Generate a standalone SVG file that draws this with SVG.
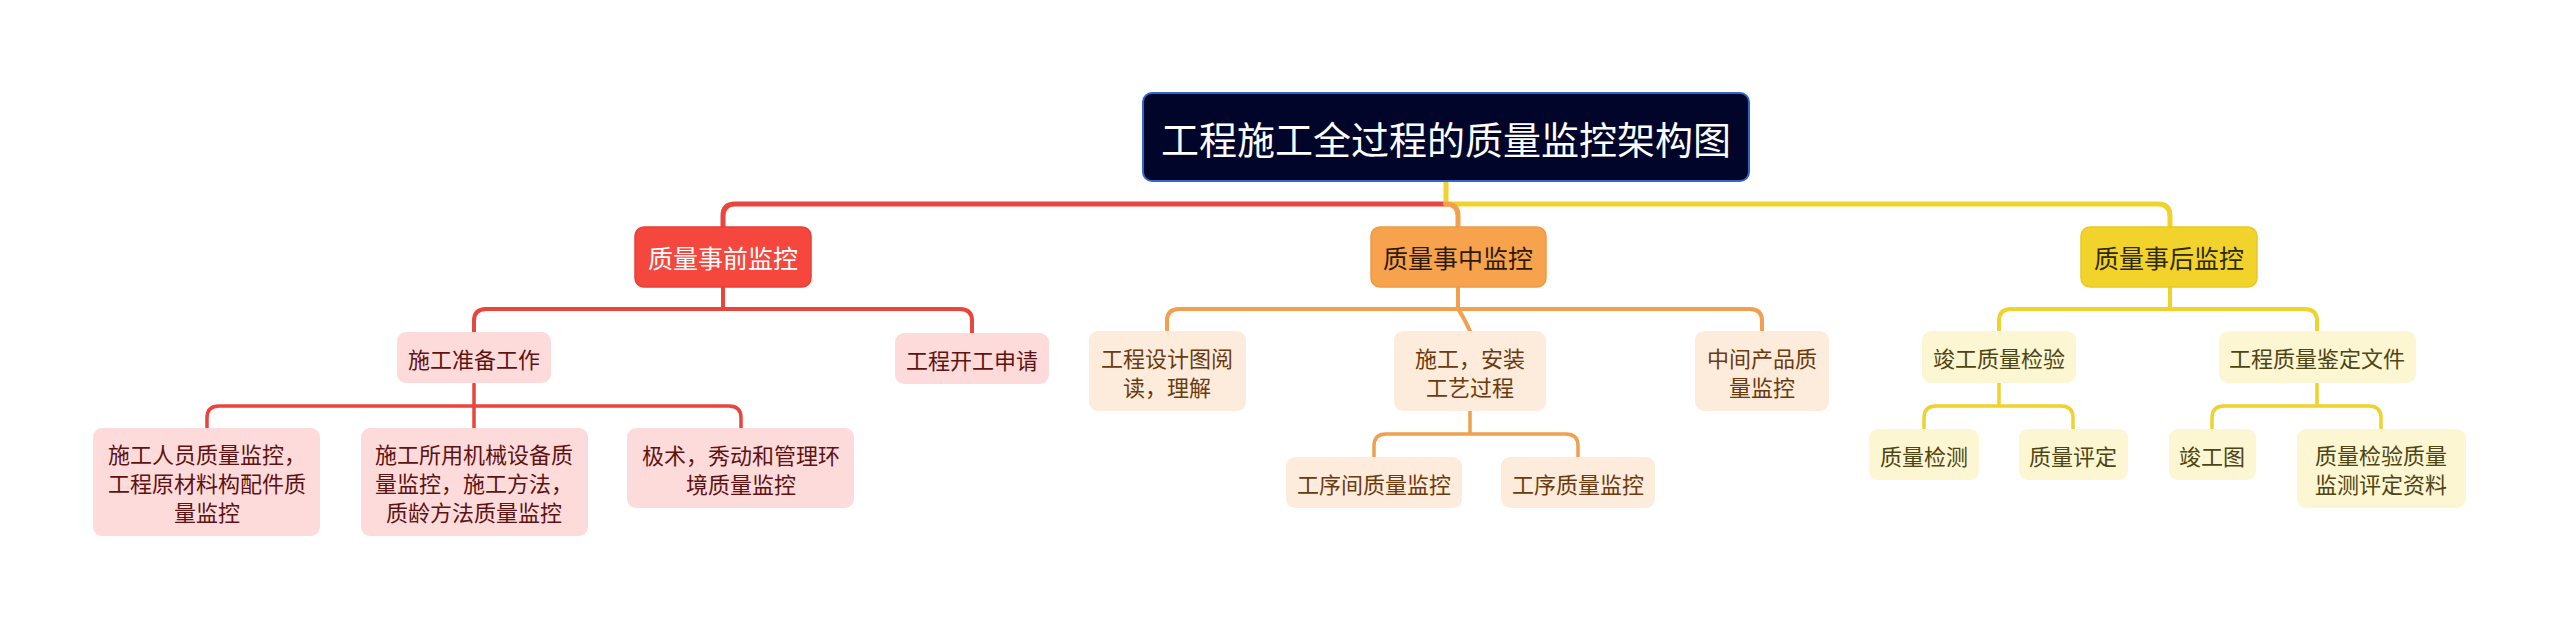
<svg xmlns="http://www.w3.org/2000/svg" width="2560" height="630" viewBox="0 0 2560 630">
<style>
text{font-family:"Noto Sans CJK SC","Noto Sans",sans-serif;text-anchor:middle;dominant-baseline:central}
.c{fill:none;stroke-linecap:round;stroke-linejoin:round}
.cr{stroke:#e8453c}.co{stroke:#f0a04f}.cy{stroke:#f0d22e}
.w1{stroke-width:5}.w2{stroke-width:4}.w3{stroke-width:3.5}
.root rect{fill:#02052a;stroke:#2f66c8;stroke-width:2}
.root text{fill:#ffffff;font-size:38px}
.l1r rect{fill:#f5473d;stroke:#e83f35;stroke-width:1.5}
.l1r text{fill:#ffffff;font-size:25px}
.l1o rect{fill:#f7a24c;stroke:#ee9a45;stroke-width:1.5}
.l1o text{fill:#2e1a08;font-size:25px}
.l1y rect{fill:#f2d32b;stroke:#e8c925;stroke-width:1.5}
.l1y text{fill:#2e2a08;font-size:25px}
.sr rect{fill:#fddbdb}
.sr text{fill:#5e1212;font-size:22px}
.so rect{fill:#fdecdb}
.so text{fill:#6b3a0e;font-size:22px}
.sy rect{fill:#fdf6d2}
.sy text{fill:#4e4514;font-size:22px}
</style>
<rect width="2560" height="630" fill="#ffffff"/>
<g id="connectors">
<path class="c cr w1" d="M1446,204 L735,204 Q723,204 723,216 L723,227"/>
<path class="c cy w1" d="M1446,182 L1446,204 L2158,204 Q2170,204 2170,216 L2170,227"/>
<path class="c co w1" d="M1446,204 Q1458,204 1458,216 L1458,227"/>
<path class="c cr w2" d="M723,287 L723,309 M486,309 L960,309 M474,333 L474,321 Q474,309 486,309 M972,333 L972,321 Q972,309 960,309"/>
<path class="c cr w3" d="M474,384 L474,428 M219,406 L729,406 M207,428 L207,418 Q207,406 219,406 M741,428 L741,418 Q741,406 729,406"/>
<path class="c co w2" d="M1458,287 L1458,309 M1179,309 L1750,309 M1167,331 L1167,321 Q1167,309 1179,309 M1762,331 L1762,321 Q1762,309 1750,309 M1458,309 Q1462,314 1470,331"/>
<path class="c co w3" d="M1470,411 L1470,434 M1386,434 L1566,434 M1374,457 L1374,446 Q1374,434 1386,434 M1578,457 L1578,446 Q1578,434 1566,434"/>
<path class="c cy w2" d="M2170,287 L2170,309 M2011,309 L2305,309 M1999,331 L1999,321 Q1999,309 2011,309 M2317,331 L2317,321 Q2317,309 2305,309"/>
<path class="c cy w3" d="M1999,383 L1999,406 M1936,406 L2061,406 M1924,429 L1924,418 Q1924,406 1936,406 M2073,429 L2073,418 Q2073,406 2061,406"/>
<path class="c cy w3" d="M2317,383 L2317,406 M2224,406 L2369,406 M2212,429 L2212,418 Q2212,406 2224,406 M2381,429 L2381,418 Q2381,406 2369,406"/>
</g>
<g id="root" class="root"><rect x="1143" y="93" width="606" height="88" rx="9"/><text x="1446" y="137">工程施工全过程的质量监控架构图</text></g>
<g id="pre" class="l1r"><rect x="635" y="227" width="176" height="60" rx="9"/><text x="723" y="257">质量事前监控</text></g>
<g id="mid" class="l1o"><rect x="1371" y="227" width="175" height="60" rx="9"/><text x="1458" y="257">质量事中监控</text></g>
<g id="post" class="l1y"><rect x="2081" y="227" width="176" height="60" rx="9"/><text x="2169" y="257">质量事后监控</text></g>
<g id="prep" class="sr"><rect x="397" y="332" width="154" height="51" rx="9"/><text x="474" y="357.5">施工准备工作</text></g>
<g id="start" class="sr"><rect x="895" y="333" width="154" height="51" rx="9"/><text x="972" y="358.5">工程开工申请</text></g>
<g id="people" class="sr"><rect x="93" y="428" width="227" height="108" rx="9"/><text x="207" y="453">施工人员质量监控，</text><text x="207" y="482">工程原材料构配件质</text><text x="207" y="511">量监控</text></g>
<g id="machine" class="sr"><rect x="361" y="428" width="227" height="108" rx="9"/><text x="474" y="453">施工所用机械设备质</text><text x="474" y="482">量监控，施工方法，</text><text x="474" y="511">质龄方法质量监控</text></g>
<g id="env" class="sr"><rect x="627" y="428" width="227" height="80" rx="9"/><text x="741" y="453.5">极术，秀动和管理环</text><text x="741" y="482.5">境质量监控</text></g>
<g id="design" class="so"><rect x="1089" y="331" width="157" height="80" rx="9"/><text x="1167" y="356.5">工程设计图阅</text><text x="1167" y="385.5">读，理解</text></g>
<g id="install" class="so"><rect x="1394" y="331" width="152" height="80" rx="9"/><text x="1470" y="356.5">施工，安装</text><text x="1470" y="385.5">工艺过程</text></g>
<g id="product" class="so"><rect x="1695" y="331" width="134" height="80" rx="9"/><text x="1762" y="356.5">中间产品质</text><text x="1762" y="385.5">量监控</text></g>
<g id="between" class="so"><rect x="1286" y="457" width="176" height="51" rx="9"/><text x="1374" y="482.5">工序间质量监控</text></g>
<g id="process" class="so"><rect x="1501" y="457" width="154" height="51" rx="9"/><text x="1578" y="482.5">工序质量监控</text></g>
<g id="inspect" class="sy"><rect x="1922" y="331" width="154" height="52" rx="9"/><text x="1999" y="357">竣工质量检验</text></g>
<g id="docs" class="sy"><rect x="2219" y="331" width="197" height="52" rx="9"/><text x="2317" y="357">工程质量鉴定文件</text></g>
<g id="test" class="sy"><rect x="1869" y="429" width="110" height="51" rx="9"/><text x="1924" y="454.5">质量检测</text></g>
<g id="rate" class="sy"><rect x="2019" y="429" width="109" height="51" rx="9"/><text x="2073" y="454.5">质量评定</text></g>
<g id="drawing" class="sy"><rect x="2169" y="429" width="87" height="51" rx="9"/><text x="2212" y="454.5">竣工图</text></g>
<g id="records" class="sy"><rect x="2297" y="429" width="169" height="79" rx="9"/><text x="2381" y="454">质量检验质量</text><text x="2381" y="483">监测评定资料</text></g>
</svg>
